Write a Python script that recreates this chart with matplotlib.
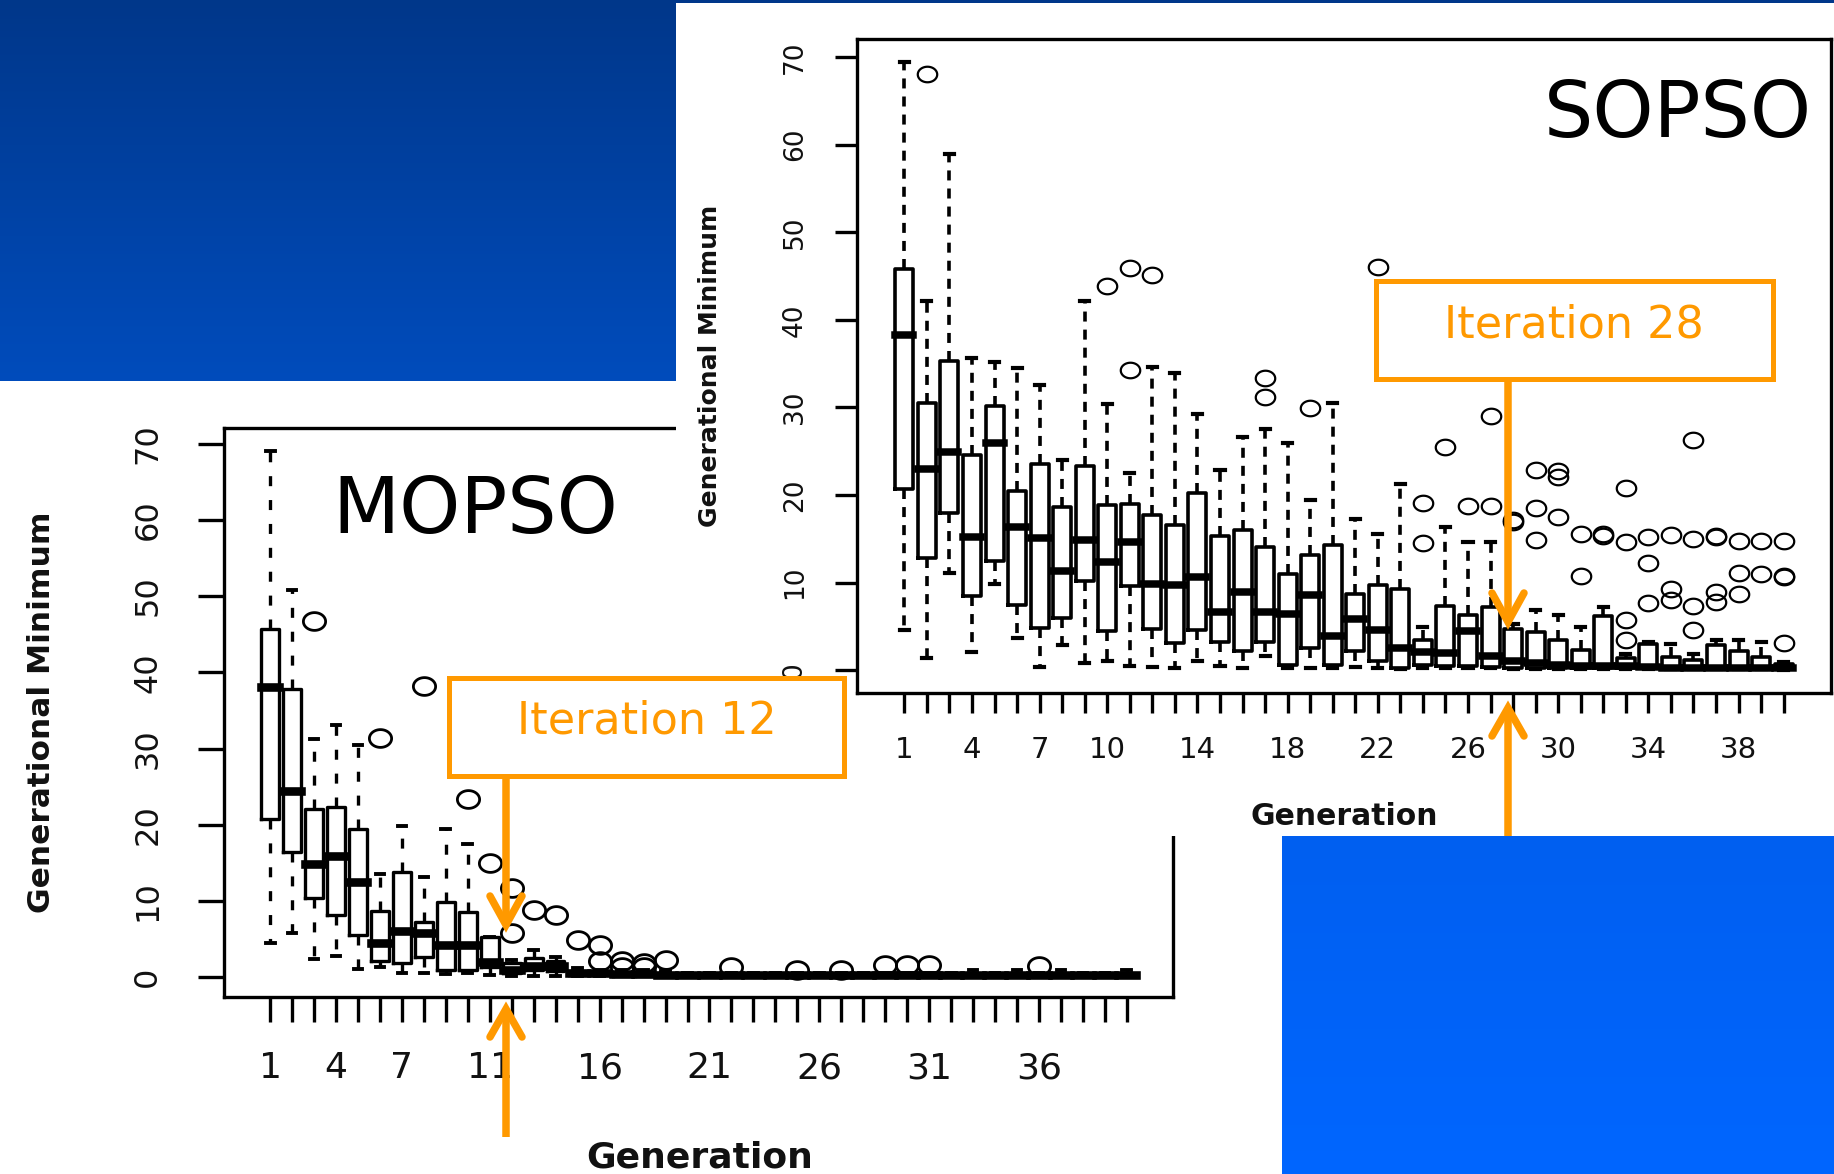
import numpy as np
import matplotlib
matplotlib.use("Agg")
import matplotlib.pyplot as plt
from matplotlib.path import Path
from matplotlib.patches import Rectangle
from matplotlib.colors import LinearSegmentedColormap

plt.rcParams['font.family'] = ['DejaVu Sans']
plt.rcParams['lines.scale_dashes'] = False

# ---------------- data ----------------
generations = list(range(1, 41))
y_ticks = [0, 10, 20, 30, 40, 50, 60, 70]
sopso_tick_labels = [1, 4, 7, 10, 14, 18, 22, 26, 30, 34, 38]
mopso_tick_labels = [1, 4, 7, 11, 16, 21, 26, 31, 36]

sopso_low = [4.6, 1.4, 11.1, 2.1, 9.8, 3.7, 0.4, 2.85, 0.8, 1.0,
             0.5, 0.4, 0.2, 1.1, 0.5, 0.2, 1.6, 0.2, 0.3, 0.3,
             0.4, 0.2, 0.1, 0.2, 0.2, 0.2, 0.2, 0.1, 0.1, 0.1,
             0.1, 0.1, 0.1, 0.1, 0.1, 0.1, 0.1, 0.1, 0.1, 0.05]
sopso_q1 = [20.7, 12.8, 18.0, 8.45, 12.45, 7.5, 4.8, 6.0, 10.2, 4.5,
            9.6, 4.75, 3.1, 4.6, 3.2, 2.2, 3.2, 0.65, 2.5, 0.65,
            2.2, 1.0, 0.3, 0.57, 0.45, 0.45, 0.4, 0.3, 0.3, 0.3,
            0.25, 0.2, 0.2, 0.2, 0.2, 0.2, 0.2, 0.2, 0.2, 0.15]
sopso_med = [38.3, 23.0, 24.9, 15.2, 25.9, 16.4, 15.1, 11.3, 14.9, 12.3,
             14.6, 9.8, 9.7, 10.6, 6.7, 8.9, 6.7, 6.4, 8.6, 3.9,
             5.9, 4.6, 2.55, 2.1, 2.0, 4.5, 1.6, 1.1, 0.85, 0.6,
             0.5, 0.5, 0.5, 0.4, 0.3, 0.3, 0.3, 0.3, 0.3, 0.3]
sopso_q3 = [45.8, 30.45, 35.3, 24.55, 30.2, 20.4, 23.5, 18.65, 23.3, 18.85,
            19.0, 17.7, 16.55, 20.2, 15.3, 16.0, 14.1, 11.0, 13.1, 14.3,
            8.75, 9.7, 9.3, 3.5, 7.3, 6.35, 7.2, 4.75, 4.4, 3.5,
            2.35, 6.2, 1.45, 3.0, 1.5, 1.2, 2.85, 2.2, 1.5, 0.75]
sopso_high = [69.4, 42.2, 58.9, 35.6, 35.2, 34.5, 32.6, 24.0, 42.2, 30.4,
              22.5, 34.65, 33.9, 29.3, 22.8, 26.6, 27.5, 25.9, 19.4, 30.45,
              17.3, 15.6, 21.3, 4.95, 16.4, 14.65, 14.65, 5.25, 6.85, 6.3,
              4.9, 7.25, 1.9, 3.2, 3.0, 1.9, 3.4, 3.4, 3.2, 0.9]
sopso_out = [[], [68.0], [], [], [], [], [], [], [], [43.9],
             [45.9, 34.3], [45.1], [], [], [], [], [33.4, 31.2], [], [29.9], [],
             [], [46.0], [], [19.1, 14.5], [25.5], [18.7], [29.0, 18.8], [16.9, 17.2],
             [22.8, 18.5, 14.9], [22.7, 22.1, 17.5],
             [15.6, 10.7], [15.5, 15.3], [20.8, 14.6, 5.7, 3.5], [15.15, 12.25, 7.7],
             [15.4, 9.3, 8.0], [26.3, 15.0, 7.3, 4.55], [15.3, 15.2, 8.9, 7.8],
             [14.8, 11.1, 8.75], [14.7, 11.0], [14.7, 10.65, 10.75, 3.1]]

mopso_low = [4.55, 5.85, 2.4, 2.8, 1.1, 1.3, 0.55, 0.55, 0.4, 0.5,
             0.3, 0.2, 0.2, 0.2, 0.1, 0.1, 0.1, 0.1, 0.1, 0.05,
             0.05, 0.05, 0.05, 0.05, 0.05, 0.05, 0.05, 0.05, 0.05, 0.05,
             0.05, 0.05, 0.05, 0.05, 0.05, 0.05, 0.05, 0.05, 0.05, 0.05]
mopso_q1 = [20.7, 16.4, 10.35, 8.2, 5.5, 2.1, 1.85, 2.6, 1.0, 1.0,
            1.4, 0.5, 0.9, 0.8, 0.3, 0.3, 0.2, 0.2, 0.2, 0.15,
            0.15, 0.15, 0.15, 0.15, 0.15, 0.15, 0.15, 0.15, 0.15, 0.15,
            0.15, 0.15, 0.15, 0.15, 0.15, 0.15, 0.15, 0.15, 0.15, 0.15]
mopso_med = [38.1, 24.4, 14.9, 15.9, 12.5, 4.55, 6.0, 5.8, 4.25, 4.25,
             2.0, 1.0, 1.5, 1.5, 0.5, 0.5, 0.4, 0.4, 0.35, 0.3,
             0.3, 0.3, 0.3, 0.3, 0.3, 0.3, 0.3, 0.3, 0.3, 0.3,
             0.3, 0.3, 0.3, 0.3, 0.3, 0.3, 0.3, 0.3, 0.3, 0.3]
mopso_q3 = [45.7, 37.8, 22.1, 22.3, 19.5, 8.7, 13.8, 7.2, 9.9, 8.5,
            5.3, 1.8, 2.5, 2.1, 0.8, 0.8, 0.6, 0.6, 0.5, 0.45,
            0.45, 0.45, 0.45, 0.45, 0.45, 0.45, 0.45, 0.45, 0.45, 0.45,
            0.45, 0.45, 0.45, 0.45, 0.45, 0.45, 0.45, 0.45, 0.45, 0.45]
mopso_high = [69.0, 50.8, 31.2, 33.1, 30.5, 13.5, 19.8, 13.2, 19.4, 17.45,
              5.3, 2.3, 3.6, 2.7, 1.2, 1.0, 0.9, 0.9, 0.8, 0.6,
              0.6, 0.6, 0.6, 0.6, 0.6, 0.6, 0.6, 0.6, 0.6, 0.6,
              0.6, 0.6, 0.9, 0.6, 0.9, 0.6, 0.9, 0.6, 0.6, 0.9]
mopso_out = [[], [], [46.7], [], [], [31.4], [], [38.2], [], [23.4],
             [15.0], [11.7, 5.8], [8.8], [8.2], [4.9], [4.25, 2.1], [2.1, 1.4], [1.85, 1.3], [2.3], [],
             [], [1.3], [], [], [1.0], [], [1.0], [], [1.6], [1.6],
             [1.6], [], [], [], [], [1.5], [], [], [], []]

# ---------------- layout helpers ----------------
W, H = 1834, 1174
fig = plt.figure(figsize=(W / 100, H / 100), dpi=100)
fig.patch.set_facecolor('white')


def fig_rect(x0, y0, x1, y1):
    return [x0 / W, 1 - y1 / H, (x1 - x0) / W, (y1 - y0) / H]


theta = np.linspace(0, 2 * np.pi, 64)
ellipse = Path(np.column_stack([np.cos(theta), 0.8 * np.sin(theta)]), closed=True)


def draw_panel(ax, low, q1, med, q3, high, out, tick_labels, lw, medlw,
               msize, mew, dash, xlsize, ylsize, xlen, ylen, xpad, ypad):
    stats = [dict(whislo=a, q1=b, med=c, q3=d, whishi=e, fliers=f)
             for a, b, c, d, e, f in zip(low, q1, med, q3, high, out)]
    ax.bxp(stats, positions=generations, widths=0.8, capwidths=0.4,
           boxprops=dict(color='black', linewidth=lw),
           whiskerprops=dict(color='black', linewidth=lw, linestyle=(0, dash)),
           capprops=dict(color='black', linewidth=lw + 0.4),
           medianprops=dict(color='black', linewidth=medlw, solid_capstyle='projecting'),
           flierprops=dict(marker=ellipse, markerfacecolor='none', markeredgecolor='black',
                           markersize=msize, markeredgewidth=mew, linestyle='none'),
           manage_ticks=False)
    ax.set_xlim(-1.1, 42.1)
    ax.set_ylim(-2.6, 72.05)
    ax.set_xticks(generations)
    ax.set_xticklabels([str(g) if g in tick_labels else '' for g in generations])
    ax.set_yticks(y_ticks)
    ax.set_yticklabels([str(v) for v in y_ticks])
    ax.tick_params(axis='x', direction='out', length=xlen, width=2.4, labelsize=xlsize,
                   pad=xpad, colors='black', labelcolor='#111111')
    ax.tick_params(axis='y', direction='out', length=ylen, width=2.4, labelsize=ylsize,
                   pad=ypad, labelrotation=90, colors='black', labelcolor='#111111')
    for lab in ax.get_yticklabels():
        lab.set_va('center')
    for s in ax.spines.values():
        s.set_linewidth(2.4)
    ax.set_facecolor('white')


# ---------------- background slide ----------------
bg = fig.add_axes([0, 0, 1, 1], zorder=0)
grad = np.linspace(0, 1, 256)[:, None]
cmap_dark = LinearSegmentedColormap.from_list('dark', ['#00378a', '#004cbc'])
bg.imshow(grad, cmap=cmap_dark, extent=(0, 676, 381, 0), aspect='auto', interpolation='bilinear')
bg.add_patch(Rectangle((0, 0), W, 3.3, facecolor='#00378a', edgecolor='none'))
bg.set_xlim(0, W)
bg.set_ylim(H, 0)
bg.axis('off')

# ---------------- MOPSO panel ----------------
ax_m = fig.add_axes(fig_rect(224, 428, 1173, 997), zorder=1)
draw_panel(ax_m, mopso_low, mopso_q1, mopso_med, mopso_q3, mopso_high, mopso_out,
           mopso_tick_labels, lw=2.4, medlw=6.2, msize=16.0, mew=2.0, dash=(7.2, 10),
           xlsize=26, ylsize=23, xlen=18, ylen=18.7, xpad=21, ypad=25)

# ---------------- SOPSO panel (image laid over MOPSO) ----------------
cover = fig.add_axes(fig_rect(676, 3.3, W, 836), zorder=2)
cover.set_facecolor('white')
cover.set_xticks([])
cover.set_yticks([])
for s in cover.spines.values():
    s.set_visible(False)

ax_s = fig.add_axes(fig_rect(857, 39, 1831, 693), zorder=3)
draw_panel(ax_s, sopso_low, sopso_q1, sopso_med, sopso_q3, sopso_high, sopso_out,
           sopso_tick_labels, lw=2.6, medlw=5.4, msize=14.0, mew=1.6, dash=(7.2, 5.8),
           xlsize=21, ylsize=19, xlen=14.4, ylen=16, xpad=16.5, ypad=19.5)

# ---------------- overlay: labels, titles, annotations ----------------
top = fig.add_axes([0, 0, 1, 1], zorder=4)
top.set_xlim(0, W)
top.set_ylim(H, 0)
top.axis('off')

# bright blue block, bottom right
cmap_bright = LinearSegmentedColormap.from_list('bright', ['#005ff0', '#0066ff'])
top.imshow(grad, cmap=cmap_bright, extent=(1282, W, H, 836), aspect='auto')
top.set_xlim(0, W)
top.set_ylim(H, 0)

# axis titles
top.text(699.5, 1167, 'Generation', fontsize=26, fontweight='bold', ha='center', va='baseline',
         color='#111111')
top.text(50, 712, 'Generational Minimum', fontsize=22.5, fontweight='bold', rotation=90,
         rotation_mode='anchor', ha='center', va='baseline', color='#111111')
top.text(1344.5, 825, 'Generation', fontsize=21.5, fontweight='bold', ha='center', va='baseline',
         color='#111111')
top.text(717, 366, 'Generational Minimum', fontsize=18, fontweight='bold', rotation=90,
         rotation_mode='anchor', ha='center', va='baseline', color='#111111')

# panel names
top.text(475.5, 533, 'MOPSO', fontsize=56, ha='center', va='baseline', color='black')
top.text(1677.5, 137, 'SOPSO', fontsize=56, ha='center', va='baseline', color='black')

orange = '#ff9900'


def callout(x0, y0, x1, y1, label, baseline, ax_x, tip_down, arm_down, up_start, tip_up, arm_up):
    top.add_patch(Rectangle((x0, y0), x1 - x0, y1 - y0, facecolor='white',
                            edgecolor=orange, linewidth=3.6, zorder=5))
    top.text((x0 + x1) / 2, baseline, label, fontsize=32, color=orange,
             ha='center', va='baseline', zorder=6)
    # downward arrow
    top.plot([ax_x, ax_x], [y1, tip_down], color=orange, lw=5.4, solid_capstyle='butt', zorder=6)
    top.plot([ax_x - 16, ax_x, ax_x + 16], [arm_down, tip_down, arm_down], color=orange, lw=5.4,
             solid_capstyle='round', solid_joinstyle='miter', zorder=6)
    # upward arrow
    top.plot([ax_x, ax_x], [up_start, tip_up], color=orange, lw=5.4, solid_capstyle='butt', zorder=6)
    top.plot([ax_x - 16, ax_x, ax_x + 16], [arm_up, tip_up, arm_up], color=orange, lw=5.4,
             solid_capstyle='round', solid_joinstyle='miter', zorder=6)


callout(1375.8, 281.3, 1772.6, 378.8, 'Iteration 28', 338, 1508,
        tip_down=622, arm_down=593, up_start=836, tip_up=708, arm_up=736)
callout(449.4, 677.5, 844.4, 776.2, 'Iteration 12', 734, 506,
        tip_down=925, arm_down=896, up_start=1137, tip_up=1009, arm_up=1037)

fig.savefig('out.png', dpi=100, facecolor='white')
